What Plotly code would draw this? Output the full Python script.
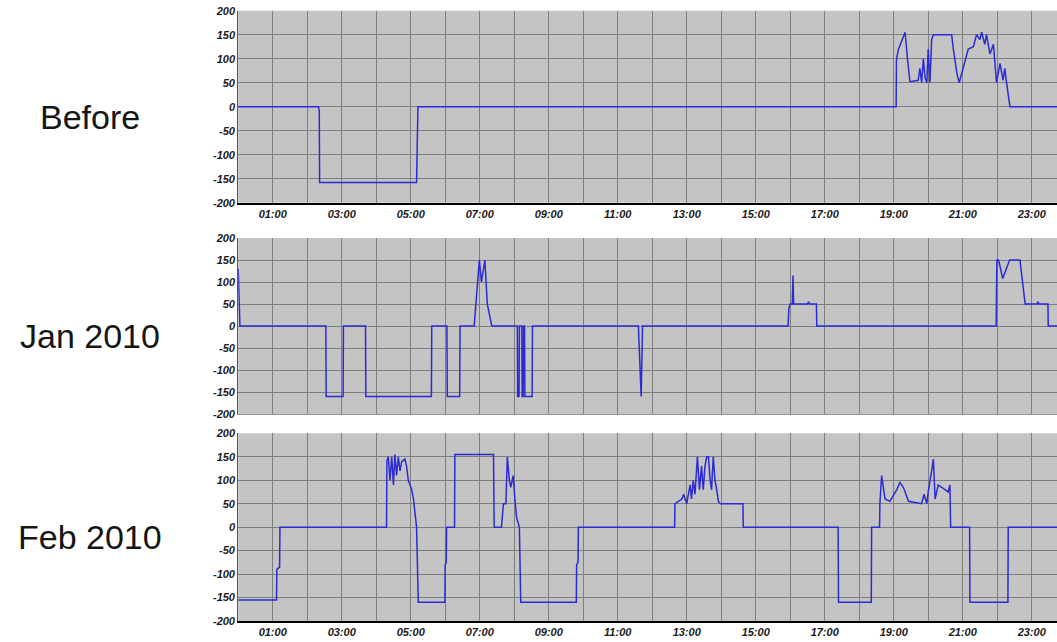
import plotly.graph_objects as go

# ---------------- data ----------------
panel_labels = ["Before", "Jan 2010", "Feb 2010"]

hour_ticks = [1, 3, 5, 7, 9, 11, 13, 15, 17, 19, 21, 23]
hour_labels = ["01:00", "03:00", "05:00", "07:00", "09:00", "11:00",
               "13:00", "15:00", "17:00", "19:00", "21:00", "23:00"]
y_ticks = [-200, -150, -100, -50, 0, 50, 100, 150, 200]
y_labels = ["-200", "-150", "-100", "-50", "0", "50", "100", "150", "200"]

before_x = [0, 2.33, 2.35, 2.36, 5.17, 5.19, 5.21, 19.07, 19.08, 19.13, 19.23, 19.33,
            19.40, 19.47, 19.71, 19.76, 19.81, 19.86, 19.91, 19.96, 20.00, 20.05, 20.10,
            20.15, 20.25, 20.68, 20.73, 20.83, 20.90, 20.97, 21.07, 21.16, 21.31, 21.40,
            21.50, 21.55, 21.64, 21.69, 21.79, 21.89, 21.98, 22.08, 22.17, 22.22, 22.27,
            22.32, 22.37, 23.75]
before_y = [0, 0, -10, -158, -158, -80, 0, 0, 97, 118, 135, 155,
            100, 52, 55, 80, 50, 100, 60, 50, 120, 50, 140,
            150, 150, 150, 120, 70, 50, 70, 100, 120, 125, 150,
            140, 155, 130, 150, 110, 130, 50, 90, 55, 80, 50,
            20, 0, 0]

jan_x = [0, 0.05, 2.54, 2.55, 3.04, 3.05, 3.69, 3.70, 5.60, 5.61, 6.05, 6.06, 6.42, 6.43,
         6.84, 6.99, 7.05, 7.15, 7.22, 7.35, 8.09, 8.10, 8.14, 8.15, 8.22, 8.23, 8.26,
         8.27, 8.30, 8.31, 8.52, 8.53, 11.60, 11.63, 11.68, 11.72, 15.94, 15.96, 16.00,
         16.06, 16.08, 16.10, 16.50, 16.53, 16.56, 16.76, 16.77, 21.97, 21.99, 22.04,
         22.16, 22.36, 22.66, 22.72, 22.81, 23.15, 23.18, 23.21, 23.47, 23.48, 23.75]
jan_y = [130, 0, 0, -160, -160, 0, 0, -160, -160, 0, 0, -160, -160, 0,
         0, 150, 100, 150, 50, 0, 0, -160, -160, 0, 0, -160, -160,
         0, 0, -160, -160, 0, 0, -50, -160, 0, 0, 40, 50,
         50, 115, 50, 50, 55, 50, 50, 0, 0, 150, 150,
         108, 150, 150, 110, 50, 50, 55, 50, 50, 0, 0]

feb_x = [0, 1.11, 1.12, 1.20, 1.21, 4.30, 4.31, 4.35, 4.40, 4.45, 4.50, 4.54, 4.59, 4.64,
         4.69, 4.74, 4.83, 4.88, 4.93, 5.03, 5.08, 5.12, 5.17, 5.22, 5.99, 6.00, 6.03,
         6.04, 6.27, 6.28, 7.40, 7.42, 7.63, 7.69, 7.76, 7.80, 7.86, 7.90, 7.97, 8.02,
         8.07, 8.15, 8.19, 9.80, 9.81, 9.85, 9.86, 12.65, 12.66, 12.86, 12.91, 13.00,
         13.10, 13.14, 13.19, 13.24, 13.31, 13.37, 13.43, 13.48, 13.53, 13.58, 13.63,
         13.68, 13.72, 13.77, 13.82, 13.87, 13.92, 13.97, 14.63, 14.64, 17.39, 17.40,
         18.35, 18.36, 18.59, 18.60, 18.65, 18.75, 18.89, 19.09, 19.18, 19.28, 19.43,
         19.81, 19.88, 19.96, 20.00, 20.10, 20.15, 20.20, 20.29, 20.39, 20.49, 20.58,
         20.63, 20.65, 21.20, 21.21, 22.31, 22.32, 23.75]
feb_y = [-155, -155, -90, -85, 0, 0, 140, 150, 100, 150, 90, 155, 110, 150,
         120, 140, 145, 130, 100, 80, 60, 30, 0, -160, -160, -80, -75,
         0, 0, 155, 155, 0, 0, 50, 50, 150, 100, 85, 110, 60,
         20, 0, -160, -160, -80, -75, 0, 0, 50, 60, 70, 50,
         90, 60, 100, 70, 150, 80, 130, 80, 130, 150, 150,
         100, 80, 150, 100, 80, 55, 50, 50, 0, 0, -160,
         -160, 0, 0, 50, 110, 60, 55, 80, 95, 85, 55,
         50, 70, 50, 75, 120, 145, 60, 90, 85, 80, 75,
         90, 0, 0, -160, -160, 0, 0]

series_x = [before_x, jan_x, feb_x]
series_y = [before_y, jan_y, feb_y]

# ---------------- layout helpers ----------------
W, H = 1057, 642
x_left_px = 238.2
px_per_hour = 34.5
x_max = (W - x_left_px) / px_per_hour
panels_px = [(10.7, 202.7), (238.0, 414.0), (433.3, 621.0)]  # top, bottom

line_color = "#2b2bd6"
bg = "#c4c4c4"
grid = "#7e7e7e"
tick_font = dict(family="Liberation Sans", size=11, color="#1a1a1a",
                 weight="bold", style="italic")

fig = go.Figure()
layout = dict(width=W, height=H, margin=dict(l=0, r=0, t=0, b=0),
              paper_bgcolor="white", plot_bgcolor=bg, showlegend=False,
              annotations=[])

for i in range(3):
    n = "" if i == 0 else str(i + 1)
    top, bot = panels_px[i]
    fig.add_trace(go.Scatter(x=series_x[i], y=series_y[i], mode="lines",
                             line=dict(color=line_color, width=1.5),
                             xaxis="x" + n, yaxis="y" + n, hoverinfo="skip"))
    show_x_labels = i != 1
    layout["xaxis" + n] = dict(
        domain=[x_left_px / W, 1.0], anchor="y" + n, range=[0, x_max],
        tickmode="array", tickvals=hour_ticks, ticktext=hour_labels,
        showticklabels=show_x_labels, tickfont=tick_font,
        ticks="", showgrid=True, gridcolor=grid, gridwidth=1,
        minor=dict(tickmode="array", tickvals=list(range(0, 24, 2)),
                   showgrid=True, gridcolor=grid, gridwidth=1, ticks=""),
        showline=True, linecolor="#000000" if show_x_labels else "#9a9a9a",
        linewidth=2 if show_x_labels else 1,
        zeroline=False, fixedrange=True, automargin=False)
    layout["yaxis" + n] = dict(
        domain=[1 - bot / H, 1 - top / H], anchor="x" + n, range=[-200, 200],
        tickmode="array", tickvals=y_ticks, ticktext=y_labels,
        tickfont=tick_font, ticks="", showgrid=True, gridcolor=grid, gridwidth=1,
        showline=True, linecolor="#555555", linewidth=1, zeroline=False,
        fixedrange=True, automargin=False)
    layout["annotations"].append(dict(
        text=panel_labels[i], xref="paper", yref="paper",
        x=90 / W, y=1 - ((top + bot) / 2 + 10) / H,
        xanchor="center", yanchor="middle", showarrow=False,
        font=dict(family="Liberation Sans", size=34, color="#151515")))

fig.update_layout(**layout)
fig.write_html("out.html", config={"displayModeBar": False},
               post_script="document.body.style.margin='0';"
                           "document.body.style.overflow='hidden';")
